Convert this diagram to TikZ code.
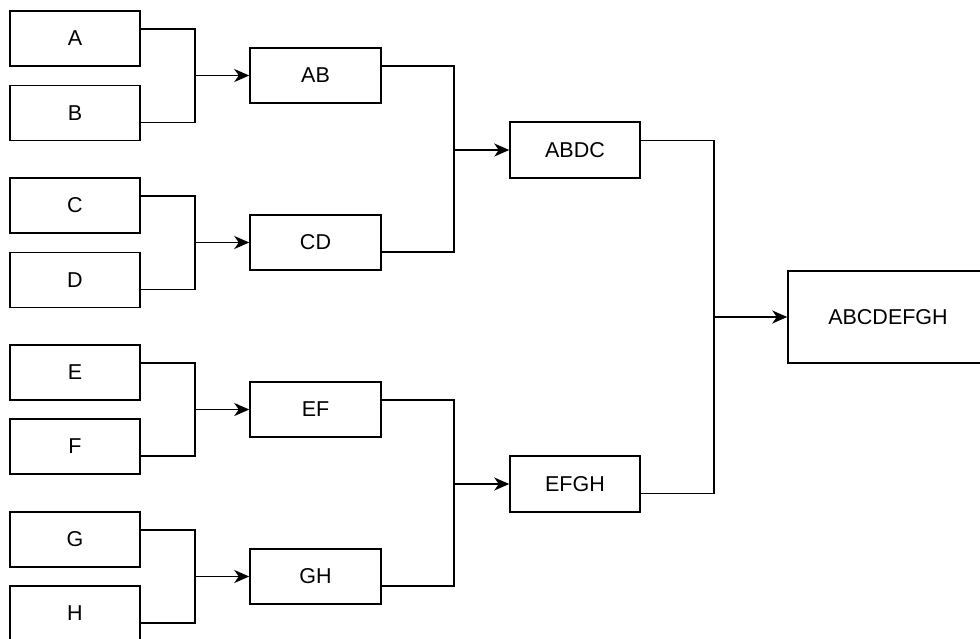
\documentclass[tikz,border=0pt]{standalone}
\usepackage{fontspec}
\setmainfont{Liberation Sans}
\usetikzlibrary{arrows.meta,calc}
\tikzset{
  box/.style={draw=black, line width=1.5pt, fill=white, inner sep=0pt, font=\fontsize{21.5}{25}\selectfont},
  leaf/.style={box, minimum width=130pt, minimum height=55pt},
  lvlone/.style={box, minimum width=131pt, minimum height=55pt},
  lvltwo/.style={box, minimum width=130pt, minimum height=56pt},
  lvlbig/.style={box, minimum width=200pt, minimum height=92pt},
  link/.style={draw=black, line width=1.5pt},
  arr/.style={link, -{Stealth[length=15pt,width=13pt,inset=4.5pt]}}
}
\begin{document}
\begin{tikzpicture}[x=1pt,y=-1pt]
\useasboundingbox (0,0) rectangle (980,638);
\clip (0,0) rectangle (980,638);
\fill[white] (0,0) rectangle (980,638);
% leaves
\node[leaf] (A) at (75,38.5) {A};
\node[leaf] (B) at (75,113) {B};
\node[leaf] (C) at (75,205.5) {C};
\node[leaf] (D) at (75,280) {D};
\node[leaf] (E) at (75,372.5) {E};
\node[leaf] (F) at (75,446.5) {F};
\node[leaf] (G) at (75,539.5) {G};
\node[leaf] (H) at (75,613.5) {H};
% level one
\node[lvlone] (AB) at (315.5,75.5) {AB};
\node[lvlone] (CD) at (315.5,242.5) {CD};
\node[lvlone] (EF) at (315.5,409.5) {EF};
\node[lvlone] (GH) at (315.5,576.5) {GH};
% level two
\node[lvltwo] (ABDC) at (575,150) {ABDC};
\node[lvltwo] (EFGH) at (575,484) {EFGH};
% final
\node[lvlbig] (ALL) at (888,317) {ABCDEFGH};
% exit coordinates
\foreach \t/\b in {A/B,C/D,E/F,G/H,AB/CD,EF/GH,ABDC/EFGH}{
  \coordinate (\t-out) at ($(\t.north east)!1/3!(\t.south east)$);
  \coordinate (\b-out) at ($(\b.north east)!2/3!(\b.south east)$);
}
% vertical joint coordinates
\coordinate (jAB) at (195,0);
\coordinate (jCD) at (195,0);
\coordinate (jEF) at (195,0);
\coordinate (jGH) at (195,0);
\coordinate (jABDC) at (454,0);
\coordinate (jEFGH) at (454,0);
\coordinate (jALL) at (714,0);
% connectors
\foreach \t/\b/\g in {A/B/AB,C/D/CD,E/F/EF,G/H/GH,AB/CD/ABDC,EF/GH/EFGH,ABDC/EFGH/ALL}{
  \draw[link] (\t-out) -- (\t-out -| j\g) -- (\b-out -| j\g) -- (\b-out);
  \draw[arr] (\g.west -| j\g) -- (\g.west);
}
\end{tikzpicture}
\end{document}
